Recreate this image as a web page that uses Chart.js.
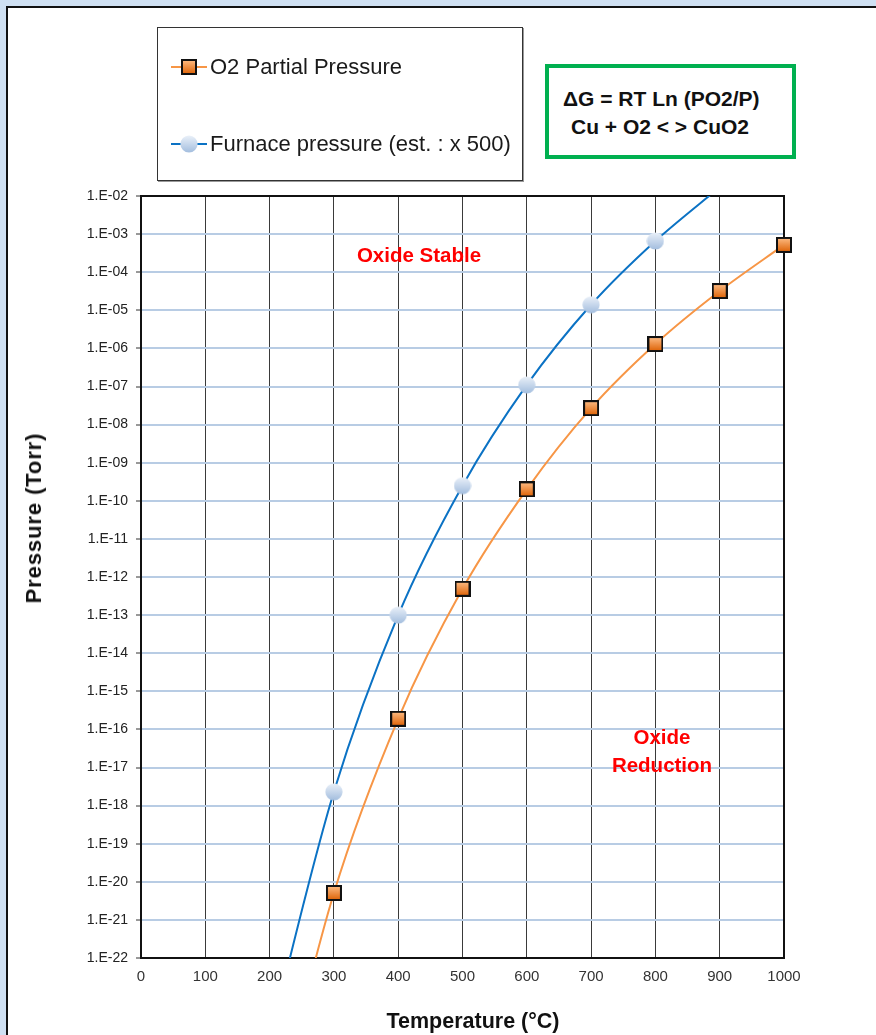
<!DOCTYPE html>
<html>
<head>
<meta charset="utf-8">
<title>Cu / CuO2 oxygen partial pressure</title>
<script src="https://cdn.jsdelivr.net/npm/chart.js@4/dist/chart.umd.min.js"></script>
<style>
  html, body { margin: 0; padding: 0; }
  body { width: 876px; height: 1035px; background: #cfe0f2; position: relative; overflow: hidden; font-family: "Liberation Sans", Arial, sans-serif; }
  #sheet { position: absolute; left: 6px; top: 6px; right: 0; bottom: 0; background: #fff; border-left: 2px solid #111; border-top: 2px solid #111; }
  #chart { position: absolute; left: 0; top: 0; }
  .legend { position: absolute; left: 157px; top: 27px; width: 364px; height: 152px; border: 1px solid #333; box-shadow: 1px 1px 0 #999; background: #fff; }
  .legend .row { position: absolute; left: 11px; height: 24px; display: flex; align-items: center; font-size: 22px; color: #1a1a1a; }
  .legend canvas { margin-right: 1px; }
  .eqn { position: absolute; left: 545px; top: 64px; width: 243px; height: 87px; border: 4px solid #00b050; background: #fff; }
  .eqn div { position: absolute; font-weight: bold; font-size: 21px; color: #111; white-space: nowrap; }
  .note { position: absolute; color: #ff0000; font-weight: bold; font-size: 20.5px; text-align: center; line-height: 28px; transform: translate(-50%, -50%); white-space: nowrap; }
  .axis-title { position: absolute; font-weight: bold; color: #111; white-space: nowrap; transform: translate(-50%, -50%); }
</style>
</head>
<body>
<div id="sheet"></div>
<canvas id="chart" width="876" height="1035"></canvas>

<div class="legend">
  <div class="row" style="top: 27px;"><canvas id="key-o2" width="40" height="20"></canvas>O2 Partial Pressure</div>
  <div class="row" style="top: 104px;"><canvas id="key-furnace" width="40" height="20"></canvas>Furnace pressure (est. : x 500)</div>
</div>

<div class="eqn">
  <div style="left: 14px; top: 19px;">&Delta;G = RT Ln (PO2/P)</div>
  <div style="left: 22px; top: 47px;">Cu + O2 &lt; &gt; CuO2</div>
</div>

<div class="note" style="left: 419px; top: 255px;">Oxide Stable</div>
<div class="note" style="left: 662px; top: 751px;">Oxide<br>Reduction</div>

<div class="axis-title" style="left: 473px; top: 1021px; font-size: 21.5px;">Temperature (°C)</div>
<div class="axis-title" style="left: 34px; top: 518px; font-size: 22px; letter-spacing: 0.9px; transform: translate(-50%, -50%) rotate(-90deg);">Pressure (Torr)</div>

<script>
// temperatures in deg C (200 and 900 only shape the curves past the axis limits)
const temps = [200, 300, 400, 500, 600, 700, 800, 900, 1000];
// equilibrium O2 partial pressure, Torr
const o2Pressure = [1.5e-27, 5.1e-21, 1.9e-16, 4.9e-13, 2.0e-10, 2.7e-8, 1.3e-6, 3.2e-5, 5.2e-4];
// estimated furnace pressure, Torr
const furnacePressure = [7.6e-25, 2.3e-18, 1.0e-13, 2.5e-10, 1.1e-7, 1.4e-5, 6.6e-4, 1.7e-2, null];

const xTicks = [0, 100, 200, 300, 400, 500, 600, 700, 800, 900, 1000];
const yTickLabels = ['1.E-02', '1.E-03', '1.E-04', '1.E-05', '1.E-06', '1.E-07', '1.E-08',
  '1.E-09', '1.E-10', '1.E-11', '1.E-12', '1.E-13', '1.E-14', '1.E-15', '1.E-16',
  '1.E-17', '1.E-18', '1.E-19', '1.E-20', '1.E-21', '1.E-22'];
const yTickValues = yTickLabels.map(Number);

const FONT = '"Liberation Sans", Arial, sans-serif';
const ORANGE = '#f79646';
const BLUE = '#0b72c4';

// --- marker images (gradient filled like the spreadsheet markers) ---
function squareMarker() {
  const c = document.createElement('canvas');
  c.width = 16; c.height = 16;
  const g = c.getContext('2d');
  const grad = g.createLinearGradient(0, 2, 0, 14);
  grad.addColorStop(0, '#fbb57a');
  grad.addColorStop(1, '#e0690f');
  g.fillStyle = grad;
  g.fillRect(1, 1, 14, 14);
  g.lineWidth = 2;
  g.strokeStyle = '#111';
  g.strokeRect(1, 1, 14, 14);
  return c;
}
function circleMarker() {
  const c = document.createElement('canvas');
  c.width = 18; c.height = 18;
  const g = c.getContext('2d');
  const grad = g.createLinearGradient(0, 1, 0, 17);
  grad.addColorStop(0, '#e8eff8');
  grad.addColorStop(1, '#a5bfdf');
  g.fillStyle = grad;
  g.beginPath();
  g.arc(9, 9, 8.6, 0, Math.PI * 2);
  g.fill();
  return c;
}
const squareImg = squareMarker();
const circleImg = circleMarker();

// legend samples: short line with the marker on it
function drawKey(id, color, img) {
  const g = document.getElementById(id).getContext('2d');
  g.strokeStyle = color;
  g.lineWidth = 2;
  g.beginPath();
  g.moveTo(2, 10); g.lineTo(38, 10);
  g.stroke();
  g.drawImage(img, 20 - img.width / 2, 10 - img.height / 2);
}
drawKey('key-o2', ORANGE, squareImg);
drawKey('key-furnace', BLUE, circleImg);

// --- plot frame, drawn under the markers ---
const plotFrame = {
  id: 'plotFrame',
  beforeDatasetsDraw(chart) {
    const { ctx, chartArea: a } = chart;
    ctx.save();
    ctx.strokeStyle = '#111';
    ctx.lineWidth = 2;
    ctx.strokeRect(a.left, a.top, a.right - a.left, a.bottom - a.top);
    ctx.restore();
  }
};

const toPoints = arr => temps.map((t, i) => ({ x: t, y: arr[i] }));

new Chart(document.getElementById('chart'), {
  type: 'line',
  data: {
    datasets: [
      {
        label: 'O2 Partial Pressure',
        data: toPoints(o2Pressure),
        borderColor: ORANGE,
        borderWidth: 2,
        pointStyle: squareImg,
        tension: 0.3,
        clip: { left: 0, top: 0, bottom: 0, right: 12 }
      },
      {
        label: 'Furnace pressure (est. : x 500)',
        data: toPoints(furnacePressure),
        borderColor: BLUE,
        borderWidth: 2,
        pointStyle: circleImg,
        tension: 0.3,
        clip: { left: 0, top: 0, bottom: 0, right: 12 }
      }
    ]
  },
  options: {
    responsive: false,
    animation: false,
    devicePixelRatio: 1,
    elements: { line: { capBezierPoints: false } },
    layout: { padding: { top: 196, right: 92, left: 0, bottom: 0 } },
    plugins: { legend: { display: false }, tooltip: { enabled: false } },
    scales: {
      x: {
        type: 'linear',
        min: 0,
        max: 1000,
        afterBuildTicks: scale => { scale.ticks = xTicks.map(v => ({ value: v })); },
        afterFit: scale => { scale.height = 77; },
        grid: { color: '#3a3a3a', lineWidth: 1, drawTicks: false },
        border: { display: false },
        ticks: {
          padding: 10,
          color: '#333',
          font: { family: FONT, size: 15 },
          maxRotation: 0,
          callback: (v, i) => String(xTicks[i])
        }
      },
      y: {
        type: 'logarithmic',
        min: 1e-22,
        max: 1e-2,
        afterBuildTicks: scale => { scale.ticks = yTickValues.map(v => ({ value: v })); },
        afterFit: scale => { scale.width = 141; },
        grid: { color: '#b8cce4', lineWidth: 2, tickColor: '#333', tickLength: 5, tickWidth: 1 },
        border: { display: false },
        ticks: {
          autoSkip: false,
          padding: 8,
          color: '#222',
          font: { family: FONT, size: 14 },
          callback: (v, i) => yTickLabels[i]
        }
      }
    }
  },
  plugins: [plotFrame]
});
</script>
</body>
</html>
